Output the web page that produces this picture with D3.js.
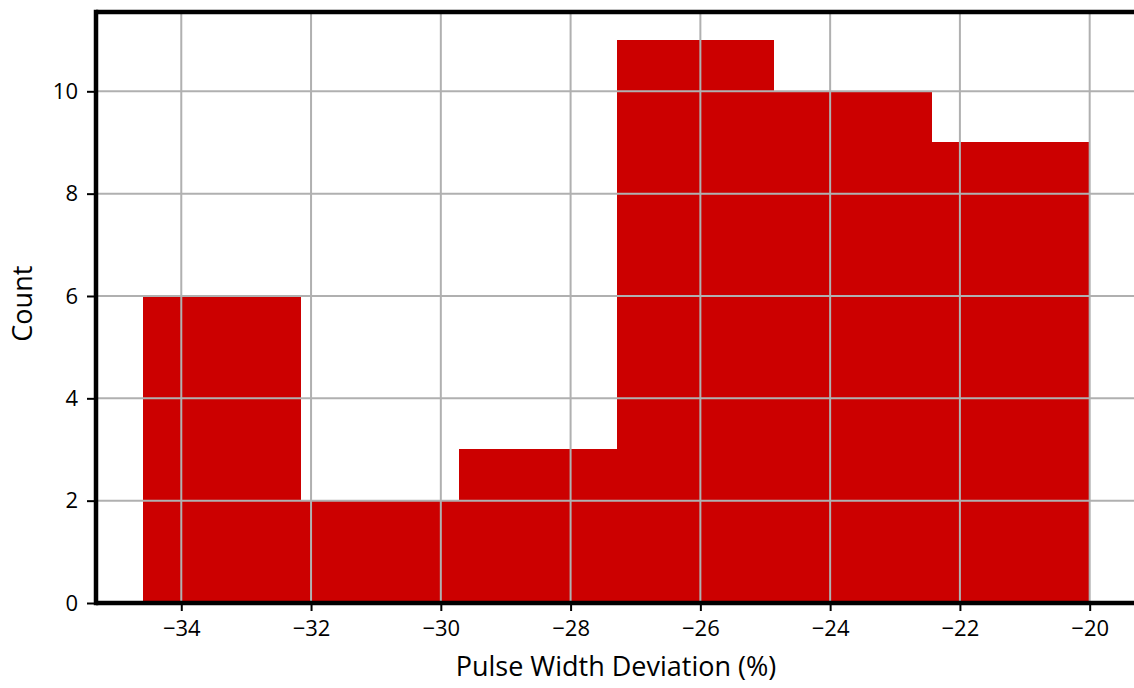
<!DOCTYPE html>
<html>
<head>
<meta charset="utf-8">
<script src="https://cdn.jsdelivr.net/npm/d3@7"></script>
<style>
body { margin: 0; background: #fff; }
text { font-family: "Open Sans", sans-serif; fill: #000; }
</style>
</head>
<body>
<svg id="chart" width="1134" height="688"></svg>
<script>
// histogram bin edges and counts
const binEdges = [-34.585, -32.155, -29.72, -27.29, -24.86, -22.43, -20.0]
const counts = [6, 2, 3, 11, 10, 9]
const xTicks = [-34, -32, -30, -28, -26, -24, -22, -20]
const yTicks = [0, 2, 4, 6, 8, 10]

const width = 1134, height = 688
const marginLeft = 96, plotBottom = 603, plotTop = 12

let svg = d3.select('#chart')

let xMin = binEdges[0], xMax = binEdges[binEdges.length - 1]
let pad = (xMax - xMin) * 0.05
let x = d3.scaleLinear()
  .domain([xMin - pad, xMax + pad])
  .range([marginLeft, 1137])

let y = d3.scaleLinear()
  .domain([0, d3.max(counts) * 1.05])
  .range([plotBottom, plotTop])

let bins = counts.map((c, i) => ({x0: binEdges[i], x1: binEdges[i + 1], n: c}))

// bars
svg.append('g').selectAll('rect')
  .data(bins)
  .enter()
  .append('rect')
  .attr('x', d => Math.round(x(d.x0)))
  .attr('width', d => Math.round(x(d.x1)) - Math.round(x(d.x0)))
  .attr('y', d => y(d.n))
  .attr('height', d => y(0) - y(d.n))
  .attr('shape-rendering', 'crispEdges')
  .style('fill', '#cc0000')

// grid on top of bars
let grid = svg.append('g').attr('stroke', '#b0b0b0').attr('stroke-width', 2)
grid.selectAll('.gx')
  .data(xTicks)
  .enter()
  .append('line')
  .attr('x1', d => x(d)).attr('x2', d => x(d))
  .attr('y1', y.range()[0]).attr('y2', y.range()[1])
grid.selectAll('.gy')
  .data(yTicks)
  .enter()
  .append('line')
  .attr('y1', d => y(d)).attr('y2', d => y(d))
  .attr('x1', marginLeft).attr('x2', width)

// axes
let xAxis = svg.append('g')
  .attr('transform', `translate(0,${plotBottom})`)
  .call(d3.axisBottom(x).tickValues(xTicks).tickSize(8).tickPadding(9)
    .tickFormat(d => String(d).replace('-', '\u2212')))
let yAxis = svg.append('g')
  .attr('transform', `translate(${marginLeft},0)`)
  .call(d3.axisLeft(y).tickValues(yTicks).tickSize(9).tickPadding(9))

;[xAxis, yAxis].forEach(a => {
  a.select('.domain').remove()
  a.selectAll('line').attr('stroke', '#000').attr('stroke-width', 2)
  a.selectAll('text').style('font-size', '22px').attr('fill', '#000')
})

// spines
svg.append('line').attr('x1', marginLeft).attr('x2', width).attr('y1', plotBottom).attr('y2', plotBottom)
  .attr('stroke', '#000').attr('stroke-width', 4.5)
svg.append('line').attr('x1', marginLeft).attr('x2', width).attr('y1', plotTop).attr('y2', plotTop)
  .attr('stroke', '#000').attr('stroke-width', 4.5)
svg.append('line').attr('x1', marginLeft).attr('x2', marginLeft).attr('y1', plotTop - 2.25).attr('y2', plotBottom + 2.25)
  .attr('stroke', '#000').attr('stroke-width', 4.5)

// labels
svg.append('text')
  .attr('x', x(-27.3)).attr('y', 676)
  .attr('text-anchor', 'middle')
  .style('font-size', '27px')
  .text('Pulse Width Deviation (%)')

svg.append('text')
  .attr('transform', `translate(32,${y(5.85)}) rotate(-90)`)
  .attr('text-anchor', 'middle')
  .style('font-size', '27px')
  .text('Count')
</script>
</body>
</html>
